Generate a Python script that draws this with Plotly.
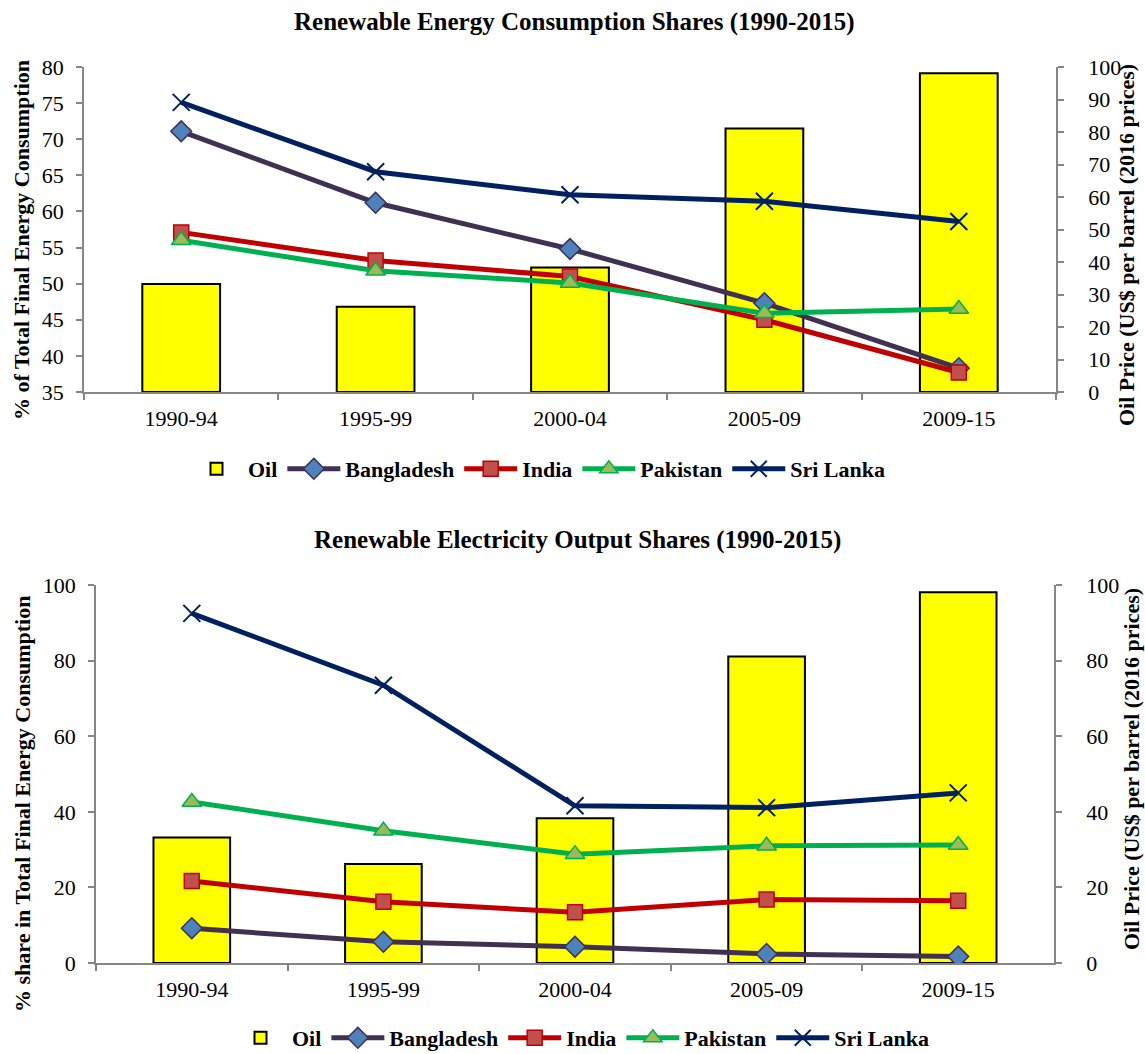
import plotly.graph_objects as go

W, H = 1145, 1054

periods = ["1990-94", "1995-99", "2000-04", "2005-09", "2009-15"]
oil_price = [33.2, 26.2, 38.3, 81.1, 98.1]

# Top chart: renewable energy consumption shares (%)
cons_bangladesh = [71.1, 61.2, 54.8, 47.3, 38.3]
cons_india = [57.1, 53.2, 51.0, 45.0, 37.7]
cons_pakistan = [56.0, 51.8, 50.1, 45.9, 46.5]
cons_srilanka = [75.1, 65.5, 62.3, 61.4, 58.6]

# Bottom chart: renewable electricity output shares (%)
elec_bangladesh = [9.2, 5.6, 4.3, 2.4, 1.7]
elec_india = [21.7, 16.2, 13.4, 16.8, 16.5]
elec_pakistan = [42.6, 35.0, 28.8, 31.0, 31.2]
elec_srilanka = [92.5, 73.5, 41.6, 41.1, 45.0]

FONT = "Liberation Serif"
AX = "#868686"

styles = {
    "Bangladesh": dict(line=dict(color="#403152", width=5),
                       marker=dict(symbol="diamond", size=16, color="#4F81BD",
                                   line=dict(color="#3B3154", width=1.5))),
    "India": dict(line=dict(color="#C00000", width=5),
                  marker=dict(symbol="square", size=15, color="#C0504D",
                              line=dict(color="#C00000", width=1.5))),
    "Pakistan": dict(line=dict(color="#00B050", width=5),
                     marker=dict(symbol="triangle-up", size=17, color="#9BBB59",
                                 line=dict(color="#00B050", width=1.5))),
    "Sri Lanka": dict(line=dict(color="#002060", width=5),
                      marker=dict(symbol="x-thin-open", size=17, color="#002060",
                                  line=dict(color="#002060", width=2))),
}

fig = go.Figure()


def add_chart(xa, ya_oil, ya_share, series, legend):
    fig.add_trace(go.Bar(x=periods, y=oil_price, name="Oil", xaxis=xa, yaxis=ya_oil,
                         width=0.4, marker=dict(color="#FFFF00", line=dict(color="black", width=2)),
                         legend=legend))
    for name, vals in series:
        st = styles[name]
        fig.add_trace(go.Scatter(x=periods, y=vals, name=name, mode="lines+markers",
                                 xaxis=xa, yaxis=ya_share, line=st["line"], marker=st["marker"],
                                 legend=legend))


add_chart("x", "y", "y2",
          [("Bangladesh", cons_bangladesh), ("India", cons_india),
           ("Pakistan", cons_pakistan), ("Sri Lanka", cons_srilanka)], "legend")
add_chart("x2", "y3", "y4",
          [("Bangladesh", elec_bangladesh), ("India", elec_india),
           ("Pakistan", elec_pakistan), ("Sri Lanka", elec_srilanka)], "legend2")

tickfont = dict(family=FONT, size=22, color="black")


def xdom(l, r):
    return [l / W, r / W]


def ydom(top, bottom):
    return [1 - bottom / H, 1 - top / H]


common_x = dict(type="category", showline=True, linecolor=AX, linewidth=1.5,
                ticks="outside", tickson="boundaries", ticklen=6, tickcolor=AX,
                tickwidth=1.5, tickfont=tickfont, showgrid=False, zeroline=False,
                ticklabelstandoff=6)
common_y = dict(showline=True, linecolor=AX, linewidth=1.5, ticks="outside", ticklen=6,
                tickcolor=AX, tickwidth=1.5, tickfont=tickfont, showgrid=False,
                zeroline=False)

legend_font = dict(family=FONT, size=22, color="black", weight="bold")

fig.update_layout(
    width=W, height=H,
    margin=dict(l=0, r=0, t=0, b=0, autoexpand=False),
    paper_bgcolor="white", plot_bgcolor="rgba(0,0,0,0)",
    font=dict(family=FONT, color="black"),
    xaxis=dict(domain=xdom(84, 1056), anchor="y", **common_x),
    yaxis=dict(domain=ydom(67, 392), anchor="x", side="right", range=[0, 100], dtick=10,
               ticklabelstandoff=20, **common_y),
    yaxis2=dict(overlaying="y", anchor="x", side="left", range=[35, 80], dtick=5,
                ticklabelstandoff=8, **common_y),
    xaxis2=dict(domain=xdom(96, 1054), anchor="y3", **common_x),
    yaxis3=dict(domain=ydom(585, 963), anchor="x2", side="right", range=[0, 100], dtick=20,
                ticklabelstandoff=20, **common_y),
    yaxis4=dict(overlaying="y3", anchor="x2", side="left", range=[0, 100], dtick=20,
                ticklabelstandoff=8, **common_y),
    legend=dict(orientation="h", x=538 / W, xanchor="center", y=1 - 469 / H, yanchor="middle",
                font=legend_font, traceorder="normal", itemwidth=53,
                bgcolor="rgba(0,0,0,0)"),
    legend2=dict(orientation="h", x=582 / W, xanchor="center", y=1 - 1038 / H, yanchor="middle",
                 font=legend_font, traceorder="normal", itemwidth=53,
                 bgcolor="rgba(0,0,0,0)"),
)

title_font = dict(family=FONT, size=25, color="black", weight="bold")
axis_title_font = dict(family=FONT, size=22, color="black", weight="bold")

annotations = [
    dict(text="Renewable Energy Consumption Shares (1990-2015)", x=574 / W, y=1 - 22 / H,
         font=title_font),
    dict(text="Renewable Electricity Output Shares (1990-2015)", x=577 / W, y=1 - 540 / H,
         font=title_font),
    dict(text="% of Total Final Energy Consumption", x=22 / W, y=1 - 240 / H,
         font=axis_title_font, textangle=-90),
    dict(text="Oil Price (US$ per barrel (2016 prices)", x=1127 / W, y=1 - 245 / H,
         font=axis_title_font, textangle=-90),
    dict(text="% share in Total Final Energy Consumption", x=22 / W, y=1 - 804 / H,
         font=axis_title_font, textangle=-90),
    dict(text="Oil Price (US$ per barrel (2016 prices)", x=1131 / W, y=1 - 769 / H,
         font=axis_title_font, textangle=-90),
]
for a in annotations:
    a.update(xref="paper", yref="paper", showarrow=False, xanchor="center", yanchor="middle")
fig.update_layout(annotations=annotations)

fig.write_html("out.html", config={"displayModeBar": False},
               post_script="document.body.style.margin='0';document.body.style.overflow='hidden';")
